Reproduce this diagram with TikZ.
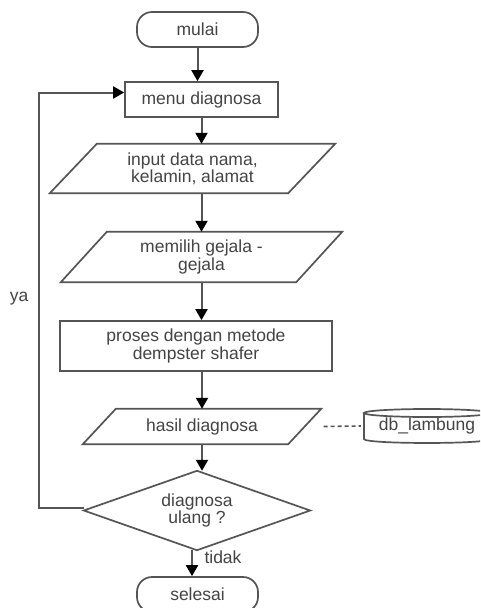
\documentclass[tikz,border=0pt]{standalone}
\usepackage{fontspec}
\setmainfont{Liberation Sans}
\usetikzlibrary{arrows.meta,calc}
\definecolor{ink}{HTML}{444444}
\definecolor{edge}{HTML}{555555}
\begin{document}
\begin{tikzpicture}[x=1pt,y=-1pt,
  every node/.style={font=\fontsize{17.5}{14}\selectfont, text=ink, align=center, inner sep=0pt},
  outline/.style={draw=edge, line width=1.7pt, line join=miter},
  shapebox/.style={outline, fill=white},
  term/.style={shapebox, rounded corners=15pt, minimum width=121pt, minimum height=35pt},
  proc/.style={shapebox, minimum height=35pt},
  flow/.style={draw=edge, line width=2pt, -{Triangle[length=11pt,width=12pt,fill=black,color=black]}},
  link/.style={draw=edge, line width=1.6pt, dash pattern=on 4pt off 3pt},
]
\clip (0,0) rectangle (480,608);
\fill[white] (0,0) rectangle (480,608);

% terminals and process boxes
\node[term] (mulai) at (197.5,29.5) {mulai};
\node[proc, minimum width=153pt] (menu) at (201.5,99.5) {menu diagnosa};
\node[proc, minimum width=272pt, minimum height=50pt] (proses) at (196,346) {proses dengan metode\\dempster shafer};
\node[term] (selesai) at (197.5,594.5) {selesai};

% input/output parallelograms: text holders, outlines drawn from their corners
\node[minimum width=238pt, minimum height=49pt] (input) at (192.5,168.5) {input data nama,\\kelamin, alamat};
\draw[outline] ([xshift=23.5pt]input.north west) -- ([xshift=23.5pt]input.north east)
  -- ([xshift=-23.5pt]input.south east) -- ([xshift=-23.5pt]input.south west) -- cycle;

\node[minimum width=235pt, minimum height=50pt] (memilih) at (201.5,257) {memilih gejala -\\gejala};
\draw[outline] ([xshift=23pt]memilih.north west) -- ([xshift=23pt]memilih.north east)
  -- ([xshift=-23pt]memilih.south east) -- ([xshift=-23pt]memilih.south west) -- cycle;

\node[minimum width=205pt, minimum height=35pt] (hasil) at (202,426.5) {hasil diagnosa};
\draw[outline] ([xshift=16.5pt]hasil.north west) -- ([xshift=16.5pt]hasil.north east)
  -- ([xshift=-16.5pt]hasil.south east) -- ([xshift=-16.5pt]hasil.south west) -- cycle;

% decision
\node[minimum width=226pt, minimum height=79pt] (dec) at (197,510.5) {diagnosa\\ulang ?};
\draw[outline] (dec.north) -- (dec.east) -- (dec.south) -- (dec.west) -- cycle;

% database cylinder
\node[minimum width=126pt, minimum height=30pt] (db) at (427,426) {db\_lambung};
\draw[outline] (427,413) ellipse [x radius=63, y radius=4];
\draw[outline] (364,413) -- (364,439) .. controls (364,444.3) and (490,444.3) .. (490,439) -- (490,413);

% labels
\node (ya) at (19,299) {ya};
\node (tidak) at (223,557) {tidak};

% connectors
\draw[flow] (mulai.south) -- (mulai.south |- menu.north);
\draw[flow] (menu.south) -- (menu.south |- input.north);
\draw[flow] (memilih.north |- input.south) -- (memilih.north);
\draw[flow] (memilih.south) -- (memilih.south |- proses.north);
\draw[flow] (hasil.north |- proses.south) -- (hasil.north);
\draw[flow] (hasil.south) -- (hasil.south |- dec.north);
\draw[flow] ([xshift=-5pt]dec.south) -- ([xshift=-5pt]dec.south |- selesai.north);
\draw[flow] ([yshift=3pt]dec.west) -| (39,300) |- ([yshift=7pt]menu.west);
\draw[link] ([xshift=19pt]hasil.east) -- ([xshift=-3pt]db.west);
\end{tikzpicture}
\end{document}
